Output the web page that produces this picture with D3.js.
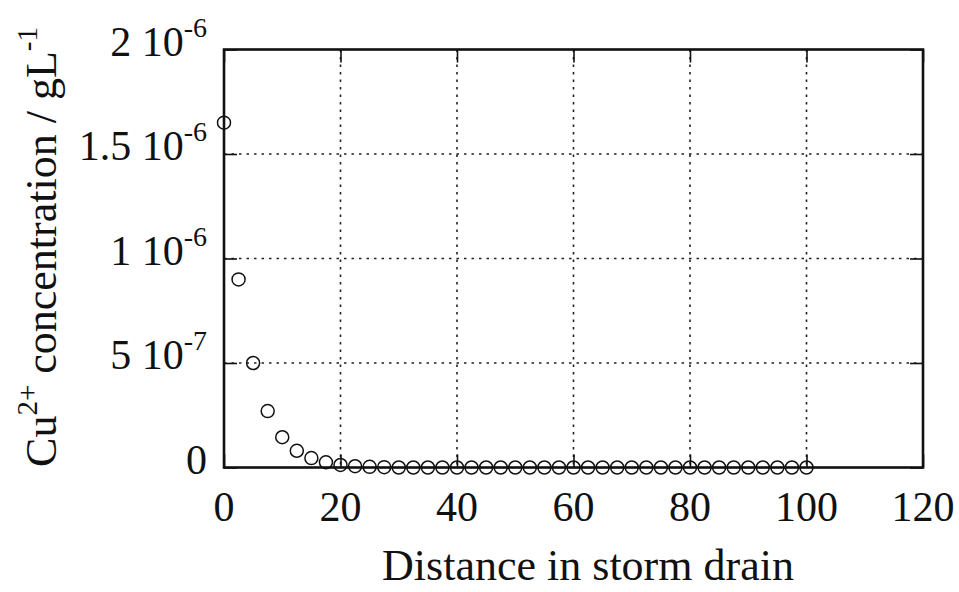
<!DOCTYPE html>
<html>
<head>
<meta charset="utf-8">
<script src="https://cdn.jsdelivr.net/npm/d3@7"></script>
<style>
  html, body { margin: 0; padding: 0; background: #fff; }
  svg text { font-family: "Liberation Serif", "DejaVu Serif", serif; fill: #111; }
</style>
</head>
<body>
<div id="chart"></div>
<script>
// distance along the drain and Cu2+ concentration
const distance = [0, 2.5, 5, 7.5, 10, 12.5, 15, 17.5, 20, 22.5, 25, 27.5, 30, 32.5, 35, 37.5,
  40, 42.5, 45, 47.5, 50, 52.5, 55, 57.5, 60, 62.5, 65, 67.5, 70, 72.5, 75, 77.5,
  80, 82.5, 85, 87.5, 90, 92.5, 95, 97.5, 100];
const concentration = [1.65e-6, 0.90e-6, 0.50e-6, 0.27e-6, 0.145e-6, 0.08e-6, 0.045e-6, 0.025e-6,
  0.012e-6, 0.006e-6, 0.003e-6, 0.0015e-6, 0, 0, 0, 0,
  0, 0, 0, 0, 0, 0, 0, 0, 0, 0, 0, 0, 0, 0, 0, 0,
  0, 0, 0, 0, 0, 0, 0, 0, 0];

const xTicks = [0, 20, 40, 60, 80, 100, 120];
const yTicks = [0, 5e-7, 1e-6, 1.5e-6, 2e-6];
const yTickLabels = [["0", ""], ["5 10", "-7"], ["1 10", "-6"], ["1.5 10", "-6"], ["2 10", "-6"]];

const W = 959, H = 592;
const margin = { top: 49.5, right: 36, bottom: 124.5, left: 224 };
const width = W - margin.left - margin.right;
const height = H - margin.top - margin.bottom;

const svg = d3.select("#chart").append("svg").attr("width", W).attr("height", H);
const g = svg.append("g").attr("transform", `translate(${margin.left},${margin.top})`);

const x = d3.scaleLinear().domain([0, 120]).range([0, width]);
const y = d3.scaleLinear().domain([0, 2e-6]).range([height, 0]);

// dotted grid (interior only)
g.append("g").selectAll("line").data(xTicks.filter(d => d > 0 && d < 120)).join("line")
  .attr("x1", d => x(d)).attr("x2", d => x(d)).attr("y1", 0).attr("y2", height)
  .attr("stroke", "#222").attr("stroke-width", 1.6).attr("stroke-dasharray", "2.5 5");
g.append("g").selectAll("line").data(yTicks.filter(d => d > 0 && d < 2e-6)).join("line")
  .attr("x1", 0).attr("x2", width).attr("y1", d => y(d)).attr("y2", d => y(d))
  .attr("stroke", "#222").attr("stroke-width", 1.6).attr("stroke-dasharray", "2.5 5");

// inward ticks on all four sides
const tl = 13;
const tickStyle = sel => sel.attr("stroke", "#111").attr("stroke-width", 1.6);
g.append("g").call(d3.axisBottom(x).tickValues(xTicks).tickSize(-tl).tickFormat(""))
  .attr("transform", `translate(0,${height})`).call(a => a.select(".domain").remove())
  .selectAll(".tick line").call(tickStyle);
g.append("g").call(d3.axisTop(x).tickValues(xTicks).tickSize(-tl).tickFormat(""))
  .call(a => a.select(".domain").remove())
  .selectAll(".tick line").call(tickStyle);
g.append("g").call(d3.axisLeft(y).tickValues(yTicks).tickSize(-tl).tickFormat(""))
  .call(a => a.select(".domain").remove())
  .selectAll(".tick line").call(tickStyle);
g.append("g").call(d3.axisRight(y).tickValues(yTicks).tickSize(-tl).tickFormat(""))
  .attr("transform", `translate(${width},0)`).call(a => a.select(".domain").remove())
  .selectAll(".tick line").call(tickStyle);

// frame
g.append("rect").attr("width", width).attr("height", height)
  .attr("fill", "none").attr("stroke", "#111").attr("stroke-width", 2.6);

// x tick labels
g.append("g").selectAll("text").data(xTicks).join("text")
  .attr("x", d => x(d)).attr("y", height + 53.5)
  .attr("text-anchor", "middle").attr("font-size", 42)
  .text(d => d);

// y tick labels with superscript exponents
const yl = g.append("g").selectAll("text").data(yTicks).join("text")
  .attr("x", -17).attr("y", d => y(d) + 6)
  .attr("text-anchor", "end").attr("font-size", 42);
yl.append("tspan").text((d, i) => yTickLabels[i][0]);
yl.append("tspan").attr("font-size", 28).attr("dy", -19).text((d, i) => yTickLabels[i][1]);

// axis titles
svg.append("text").attr("x", 588).attr("y", 580)
  .attr("text-anchor", "middle").attr("font-size", 44)
  .text("Distance in storm drain");

const yt = svg.append("text")
  .attr("transform", `translate(56,247) rotate(-90)`)
  .attr("text-anchor", "middle").attr("font-size", 44);
yt.append("tspan").text("Cu");
yt.append("tspan").attr("font-size", 29).attr("dy", -19).text("2+");
yt.append("tspan").attr("dy", 19).text(" concentration / gL");
yt.append("tspan").attr("font-size", 29).attr("dy", -19).text("-1");

// data points
g.append("g").selectAll("circle").data(distance).join("circle")
  .attr("cx", d => x(d)).attr("cy", (d, i) => y(concentration[i]))
  .attr("r", 6.5).attr("fill", "none").attr("stroke", "#111").attr("stroke-width", 1.5);
</script>
</body>
</html>
